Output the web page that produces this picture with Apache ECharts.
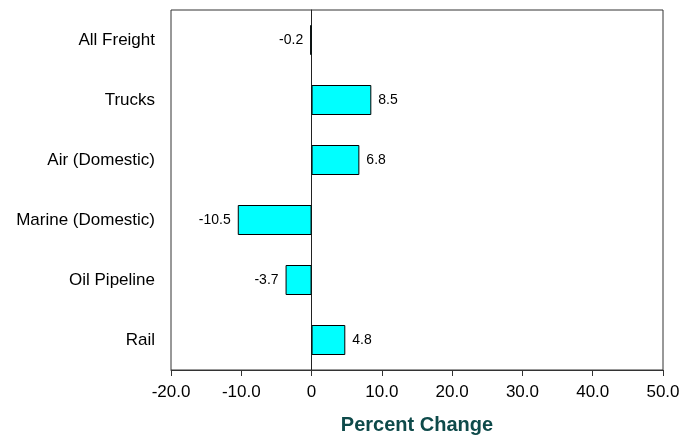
<!DOCTYPE html>
<html>
<head>
  <meta charset="UTF-8">
  <title>Percent Change</title>
  <style>
    html, body { margin: 0; padding: 0; background: #fff; }
    #chart { width: 683px; height: 435px; }
  </style>
</head>
<body>
  <div id="chart"></div>
  <script src="https://cdn.jsdelivr.net/npm/echarts@6/dist/echarts.min.js"></script>
  <script>
    const categories = ['All Freight', 'Trucks', 'Air (Domestic)', 'Marine (Domestic)', 'Oil Pipeline', 'Rail'];
    const changes = [-0.2, 8.5, 6.8, -10.5, -3.7, 4.8];

    const chart = echarts.init(document.getElementById('chart'));
    const font = 'Arial, "Liberation Sans", sans-serif';

    const option = {
      animation: false,
      grid: {
        left: 171, right: 20, top: 10, bottom: 65,
        outerBoundsMode: 'none',
        show: true, borderColor: '#333', borderWidth: 1, backgroundColor: '#fff'
      },
      xAxis: {
        type: 'value',
        min: -20, max: 50, interval: 10,
        name: 'Percent Change',
        nameLocation: 'middle',
        nameGap: 45,
        nameTextStyle: { color: '#0e4a4a', fontSize: 20, fontWeight: 'bold', fontFamily: font },
        axisLine: { show: true, lineStyle: { color: '#333' } },
        axisTick: { show: true, length: 6, lineStyle: { color: '#333' } },
        splitLine: { show: false },
        axisLabel: {
          color: '#000', fontSize: 17, fontFamily: font, margin: 14,
          formatter: v => v === 0 ? '0' : v.toFixed(1)
        }
      },
      yAxis: {
        type: 'category',
        inverse: true,
        data: categories,
        axisLine: { show: true, onZero: true, lineStyle: { color: '#222' } },
        axisTick: { show: false },
        axisLabel: { color: '#000', fontSize: 17, fontFamily: font, margin: 16 }
      },
      series: [{
        type: 'bar',
        barWidth: 30,
        itemStyle: { color: '#00ffff', borderColor: '#000', borderWidth: 1 },
        label: {
          show: true, fontSize: 14, fontFamily: font, color: '#000', distance: 7,
          formatter: p => p.value.toFixed(1)
        },
        data: changes.map(v => ({
          value: v,
          label: { position: v < 0 ? 'left' : 'right' }
        }))
      }]
    };
    chart.setOption(option);
  </script>
</body>
</html>
